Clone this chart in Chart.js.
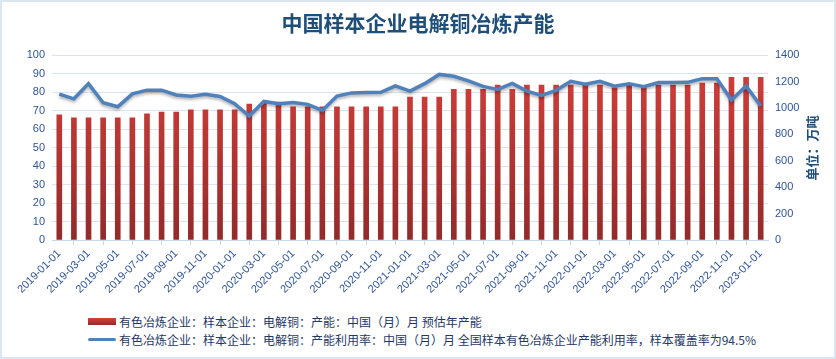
<!DOCTYPE html>
<html>
<head>
<meta charset="utf-8">
<script src="https://cdn.jsdelivr.net/npm/chart.js@4.4.1/dist/chart.umd.min.js"></script>
<style>
  html, body { margin: 0; padding: 0; background: #fff; }
  #frame { position: relative; width: 836px; height: 359px; box-sizing: border-box; border: 2px solid #dce6f2; overflow: hidden; }
  #plot { position: absolute; left: -2px; top: -2px; width: 836px; height: 305px; }
  #legend { position: absolute; left: 86px; top: 310px; font-family: "Noto Sans CJK SC", sans-serif; font-size: 12px; color: #1f3864; }
  .item { display: flex; align-items: center; height: 18px; white-space: nowrap; }
  .swatch { width: 28px; margin-right: 3px; }
</style>
</head>
<body>
<div id="frame">
  <div id="plot"><canvas id="chart"></canvas></div>
  <div id="legend"></div>
</div>
<script>
// months shown on the x axis
const months = [
  '2019-01-01','2019-02-01','2019-03-01','2019-04-01','2019-05-01','2019-06-01',
  '2019-07-01','2019-08-01','2019-09-01','2019-10-01','2019-11-01','2019-12-01',
  '2020-01-01','2020-02-01','2020-03-01','2020-04-01','2020-05-01','2020-06-01',
  '2020-07-01','2020-08-01','2020-09-01','2020-10-01','2020-11-01','2020-12-01',
  '2021-01-01','2021-02-01','2021-03-01','2021-04-01','2021-05-01','2021-06-01',
  '2021-07-01','2021-08-01','2021-09-01','2021-10-01','2021-11-01','2021-12-01',
  '2022-01-01','2022-02-01','2022-03-01','2022-04-01','2022-05-01','2022-06-01',
  '2022-07-01','2022-08-01','2022-09-01','2022-10-01','2022-11-01','2022-12-01',
  '2023-01-01'
];

// 预估年产能, 万吨 (right axis)
const capacity = [
  948, 925, 925, 925, 925, 925, 955, 970, 970, 986, 986, 986,
  986, 1030, 1045, 1045, 1008, 1008, 1008, 1008, 1008, 1008, 1008, 1008,
  1082, 1082, 1082, 1142, 1142, 1142, 1173, 1142, 1173, 1173, 1173, 1173,
  1173, 1173, 1152, 1173, 1152, 1173, 1173, 1173, 1188, 1188, 1232, 1232,
  1232
];

// 产能利用率, % (left axis)
const utilization = [
  78.9, 76.4, 84.6, 74.3, 72.1, 79.1, 81.1, 81.1, 78.5, 77.8, 78.8, 77.7,
  73.8, 67.1, 75.0, 73.7, 74.4, 73.4, 70.1, 77.9, 79.6, 79.8, 79.9, 83.4,
  80.6, 84.6, 89.6, 88.6, 86.1, 83.1, 81.5, 84.7, 80.6, 78.2, 81.0, 85.9,
  84.3, 85.9, 83.2, 84.6, 82.9, 85.2, 85.2, 85.3, 87.3, 87.3, 75.7, 83.4,
  72.5
];

const leftTicks = { min: 0, max: 100, step: 10 };
const rightTicks = { min: 0, max: 1400, step: 200 };

const capacityLabel = '有色冶炼企业：样本企业：电解铜：产能：中国（月）月 预估年产能';
const utilLabel = '有色冶炼企业：样本企业：电解铜：产能利用率：中国（月）月 全国样本有色冶炼企业产能利用率，样本覆盖率为94.5%';

const tickColor = '#2f5496';
const tickFont = { family: 'Liberation Sans', size: 11 };

// shadow under the line
const lineShadow = {
  id: 'lineShadow',
  beforeDatasetDraw(chart, args) {
    if (args.meta.type !== 'line') return;
    const c = chart.ctx;
    c.save();
    c.shadowColor = 'rgba(0,0,0,0.3)';
    c.shadowBlur = 3;
    c.shadowOffsetY = 2;
  },
  afterDatasetDraw(chart, args) {
    if (args.meta.type !== 'line') return;
    chart.ctx.restore();
  }
};

// right axis title reads bottom to top
const unitTitle = {
  id: 'unitTitle',
  afterDraw(chart) {
    const c = chart.ctx;
    c.save();
    c.translate(812, 148);
    c.rotate(-Math.PI / 2);
    c.font = 'bold 13px "Noto Sans CJK SC"';
    c.fillStyle = '#1f4e79';
    c.textAlign = 'center';
    c.textBaseline = 'middle';
    c.fillText('单位：万吨', 0, 0);
    c.restore();
  }
};

const chart = new Chart(document.getElementById('chart'), {
  type: 'bar',
  data: {
    labels: months,
    datasets: [
      {
        type: 'line',
        label: utilLabel,
        data: utilization,
        yAxisID: 'y',
        borderColor: '#4f81bd',
        borderWidth: 3.5,
        pointRadius: 0,
        tension: 0,
        order: 0
      },
      {
        type: 'bar',
        label: capacityLabel,
        data: capacity,
        yAxisID: 'y1',
        barThickness: 5,
        backgroundColor: (ctx) => {
          const area = ctx.chart.chartArea;
          if (!area) return '#c0392b';
          const g = ctx.chart.ctx.createLinearGradient(0, area.top, 0, area.bottom);
          g.addColorStop(0, '#d6403b');
          g.addColorStop(1, '#932a2a');
          return g;
        },
        order: 1
      }
    ]
  },
  options: {
    responsive: true,
    maintainAspectRatio: false,
    animation: false,
    layout: { padding: 0 },
    plugins: {
      legend: { display: false },
      tooltip: { enabled: false },
      title: {
        display: true,
        text: '中国样本企业电解铜冶炼产能',
        color: '#1f4e79',
        font: { family: 'Noto Sans CJK SC', size: 21, weight: 'bold' },
        padding: { top: 10, bottom: 20 }
      }
    },
    scales: {
      x: {
        grid: { display: true, drawOnChartArea: false, drawTicks: true, tickLength: 5, color: '#c9d9ec', offset: true },
        border: { color: '#c9d9ec' },
        ticks: {
          autoSkip: false,
          minRotation: 45,
          maxRotation: 45,
          padding: 2,
          color: tickColor,
          font: tickFont,
          callback: function (v, i) { return i % 2 === 0 ? this.getLabelForValue(v) : null; }
        },
        afterFit(s) { s.height = 65; }
      },
      y: {
        position: 'left',
        min: leftTicks.min,
        max: leftTicks.max,
        ticks: { stepSize: leftTicks.step, padding: 7, color: tickColor, font: tickFont },
        grid: { color: '#d9e4f2', drawTicks: false },
        border: { display: false },
        afterFit(s) { s.width = 52; }
      },
      y1: {
        position: 'right',
        min: rightTicks.min,
        max: rightTicks.max,
        ticks: {
          stepSize: rightTicks.step, padding: 7, color: tickColor, font: tickFont,
          callback: (v) => String(v)
        },
        grid: { drawOnChartArea: false, drawTicks: false },
        border: { display: false },
        afterFit(s) { s.width = 68; }
      }
    }
  },
  plugins: [lineShadow, unitTitle]
});

// legend rows, drawn from the dataset labels
const legend = document.getElementById('legend');
[chart.data.datasets[1], chart.data.datasets[0]].forEach((ds) => {
  const row = document.createElement('div');
  row.className = 'item';
  const sw = document.createElement('span');
  sw.className = 'swatch';
  if (ds.type === 'bar') {
    sw.style.height = '7px';
    sw.style.background = 'linear-gradient(#d6403b, #932a2a)';
  } else {
    sw.style.height = '3px';
    sw.style.borderRadius = '2px';
    sw.style.background = '#4f81bd';
  }
  const tx = document.createElement('span');
  tx.textContent = ds.label;
  row.appendChild(sw);
  row.appendChild(tx);
  legend.appendChild(row);
});
</script>
</body>
</html>
